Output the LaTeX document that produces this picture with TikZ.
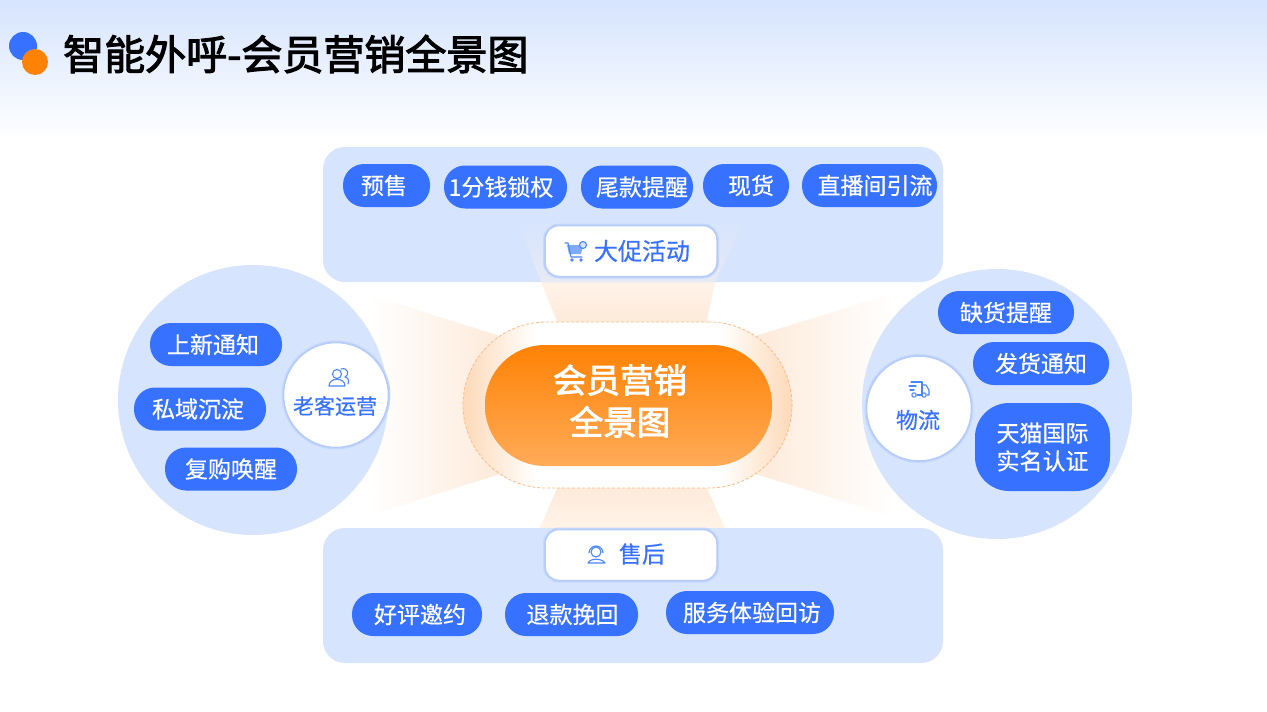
\documentclass[tikz,border=0pt]{standalone}
\usepackage{fontspec}
\setmainfont{Noto Sans CJK SC}
\newfontfamily\pillfont[FakeBold=0.5]{Noto Sans CJK SC}
\newfontfamily\titlefont[FakeBold=2.6]{Noto Sans CJK SC}
\definecolor{pillblue}{HTML}{3671FF}
\definecolor{panelblue}{HTML}{D6E4FD}
\definecolor{haloblue}{HTML}{B4CBFB}
\definecolor{iconblue}{HTML}{4A85FA}
\definecolor{rayorange}{HTML}{FDEADA}
\definecolor{raypale}{HTML}{FFF3E8}
\definecolor{dashorange}{HTML}{FDBB85}
\definecolor{coreorange}{HTML}{FF8205}
\definecolor{corepale}{HTML}{FFAB58}
\definecolor{ringorange}{HTML}{FDD9B8}
\pgfdeclarehorizontalshading{ringglow}{100bp}{color(0bp)=(ringorange); color(25bp)=(ringorange); color(36bp)=(white); color(64bp)=(white); color(75bp)=(ringorange); color(100bp)=(ringorange)}
\tikzset{
    pill/.style={fill=pillblue, text=white, rounded corners=21pt, minimum height=43pt, inner sep=0pt, font=\pillfont\fontsize{23}{28}\selectfont},
    panel/.style={fill=panelblue, rounded corners=22pt, minimum width=620pt, minimum height=135pt},
    bubble/.style={circle, fill=panelblue, minimum size=270pt, inner sep=0pt},
    tagbox/.style={fill=white, draw=haloblue, line width=1.5pt, rounded corners=14pt, minimum width=172pt, minimum height=51pt, preaction={draw=haloblue!50!panelblue, line width=4pt}},
    tagdisc/.style={circle, fill=white, draw=haloblue, line width=1.5pt, minimum size=105pt, inner sep=0pt, preaction={draw=haloblue!50!panelblue, line width=4pt}},
    taglabel/.style={text=pillblue, inner sep=0pt},
    iconline/.style={draw=iconblue, line width=1.1pt, line join=round, line cap=round}
}
\begin{document}
\begin{tikzpicture}[x=1pt, y=-1pt]
    \useasboundingbox (0,0) rectangle (1267,712);
    \fill[white] (0,0) rectangle (1267,712);
    \shade[top color=panelblue, bottom color=white] (0,0) rectangle (1267,140);
    % title
    \fill[pillblue] (23,46) circle (14);
    \fill[coreorange] (35,62) circle (13);
    \node[anchor=west, inner sep=0pt, font=\titlefont\fontsize{41}{48}\selectfont] (title) at (63,54) {智能外呼-会员营销全景图};
    % side rays, under the bubbles
    \shade[left color=white, right color=rayorange] (370,295) -- (500,336) -- (500,474) -- (370,515) -- cycle;
    \shade[left color=rayorange, right color=white] (755,336) -- (895,293) -- (895,517) -- (755,474) -- cycle;
    \shade[top color=raypale, bottom color=rayorange] (541,282) -- (715,282) -- (706,324) -- (558,324) -- cycle;
    \shade[top color=rayorange, bottom color=raypale] (558,486) -- (706,486) -- (725,528) -- (540,528) -- cycle;
    % panels and bubbles
    \node[panel] (promopanel) at (633,214.5) {};
    \node[panel] (servicepanel) at (633,595.5) {};
    \node[bubble] (oldbubble) at (253,400) {};
    \node[bubble] (shipbubble) at (997,404) {};
    \shade[top color=panelblue, bottom color=raypale!40!panelblue] (516,216) -- (746,216) -- (715,282) -- (541,282) -- cycle;
    % centre
    \node[rounded corners=83pt, minimum width=329pt, minimum height=166pt, shading=ringglow, draw=dashorange, densely dashed, line width=0.8pt] (ring) at (627.5,405) {};
    \node[rounded corners=60pt, minimum width=287pt, minimum height=121pt, top color=coreorange, bottom color=corepale] (core) at (628.5,405.5) {};
    \node[text=white, align=center, inner sep=0pt, font=\titlefont\fontsize{33.5}{42}\selectfont] (corelabel) at (620,401) {会员营销\\全景图};
    % top group
    \node[pill, minimum width=87pt] (presale) at (386.5,185.5) {\hspace{-5pt}预售};
    \node[pill, minimum width=123pt] (penny) at (505.5,187) {\hspace{-9pt}1分钱锁权};
    \node[pill, minimum width=112pt] (balance) at (637,187) {\hspace{10pt}尾款提醒};
    \node[pill, minimum width=86pt] (stock) at (746,185.5) {\hspace{10pt}现货};
    \node[pill, minimum width=135pt] (live) at (869.5,185.5) {\hspace{11pt}直播间引流};
    \node[tagbox] (promobox) at (631,251) {};
    \node[taglabel, font=\pillfont\fontsize{24}{28}\selectfont] (promolabel) at (642,251) {大促活动};
    \fill[iconblue!70] (567,245) -- (583,245) -- (581,254) -- (569,254) -- cycle;
    \draw[iconline] (565,243) -- (568,243) -- (571,257) -- (582,257);
    \fill[iconblue] (572,260) circle (1.8) (581,260) circle (1.8);
    \draw[iconline, fill=panelblue] (583,245) circle (3.5);
    % bottom group
    \node[tagbox] (servicebox) at (631,555) {};
    \node[taglabel, font=\pillfont\fontsize{23}{28}\selectfont] (servicelabel) at (642,554) {售后};
    \draw[iconline] (596,552) circle (5);
    \draw[iconline] (589,553) arc (180:360:7);
    \draw[iconline] (588,563) .. controls (590,558) and (602,558) .. (605,563) -- cycle;
    \node[pill, minimum width=130pt] (review) at (417,614.5) {\hspace{6pt}好评邀约};
    \node[pill, minimum width=133pt] (refund) at (571.5,614.5) {\hspace{2pt}退款挽回};
    \node[pill, minimum width=168pt] (revisit) at (750,612.5) {\hspace{4pt}服务体验回访};
    % left group
    \node[tagdisc] (olddisc) at (336,395) {};
    \node[taglabel, font=\pillfont\fontsize{21}{26}\selectfont] (oldlabel) at (335,406) {老客运营};
    \draw[iconline] (337,374) circle (4.5);
    \draw[iconline] (329,386) .. controls (329,377) and (345,377) .. (345,386) -- cycle;
    \draw[iconline] (341,369) .. controls (348,367) and (350,375) .. (345,377) .. controls (349,378) and (349,381) .. (348,384);
    \node[pill, minimum width=132pt] (newarrival) at (216,344.5) {\hspace{-6pt}上新通知};
    \node[pill, minimum width=132pt] (private) at (200,409) {\hspace{-4pt}私域沉淀};
    \node[pill, minimum width=132pt] (rebuy) at (231,469) {复购唤醒};
    % right group
    \node[tagdisc] (shipdisc) at (919,408.5) {};
    \node[taglabel, font=\pillfont\fontsize{22}{26}\selectfont] (shiplabel) at (918,420) {物流};
    \draw[iconline] (911,382) -- (922,382) -- (922,395) -- (917,395);
    \draw[iconline] (922,385) -- (926,385) -- (929,390) -- (929,395) -- (927,395);
    \draw[iconline] (909,386) -- (916,386) (910,390) -- (914,390);
    \draw[iconline] (914,395) circle (2.2) (924,395) circle (2.2);
    \node[pill, minimum width=136pt] (shortage) at (1006,312.5) {缺货提醒};
    \node[pill, minimum width=136pt] (dispatch) at (1041,363.5) {发货通知};
    \node[pill, rounded corners=34pt, minimum width=135pt, minimum height=88pt, align=center] (tmall) at (1042.5,447) {天猫国际\\实名认证};
\end{tikzpicture}
\end{document}
